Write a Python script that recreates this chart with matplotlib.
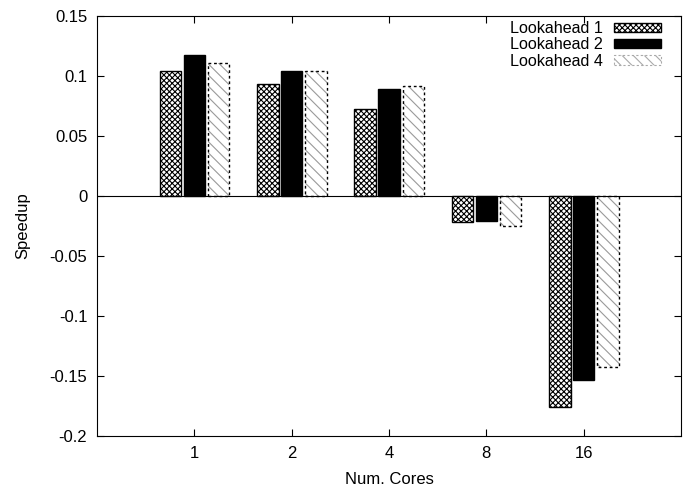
import matplotlib
matplotlib.use('Agg')
import matplotlib.pyplot as plt
from matplotlib.patches import Patch
import numpy as np

plt.rcParams['font.family'] = ['Liberation Sans', 'DejaVu Sans']
plt.rcParams['hatch.linewidth'] = 0.8

# data
cores = ['1', '2', '4', '8', '16']
lookahead1 = [0.104, 0.093, 0.0725, -0.022, -0.176]
lookahead2 = [0.1175, 0.104, 0.089, -0.021, -0.153]
lookahead4 = [0.111, 0.104, 0.0915, -0.025, -0.1425]
labels = ['Lookahead 1', 'Lookahead 2', 'Lookahead 4']

fig = plt.figure(figsize=(6.86, 4.87), dpi=100)
ax = fig.add_axes([97/686, 51/487, 584/686, 420/487])

x = np.arange(len(cores))
w = 0.22
ax.bar(x - 0.245, lookahead1, w, color='white', edgecolor='black', hatch='xxxxxx',
       linewidth=1.0)
ax.bar(x, lookahead2, w, color='black', edgecolor='black', linewidth=1.0)
# light diagonal fill, then a dashed black outline on top
ax.bar(x + 0.25, lookahead4, w, color='white', edgecolor='#9a9a9a', hatch='\\\\\\',
       linewidth=0)
ax.bar(x + 0.25, lookahead4, w, fill=False, edgecolor='black',
       linewidth=1.0, linestyle=(0, (2, 2)))

ax.axhline(0, color='black', linewidth=0.8)

ax.set_xlim(-1, 5)
ax.set_ylim(-0.2, 0.15)
ax.set_xticks(x)
ax.set_xticklabels(cores)
ax.set_yticks(np.arange(-0.2, 0.151, 0.05))
ax.set_yticklabels(['-0.2', '-0.15', '-0.1', '-0.05', '0', '0.05', '0.1', '0.15'])
ax.tick_params(direction='in', top=True, right=True, length=5, labelsize=12, pad=7)
ax.set_xlabel('Num. Cores', fontsize=12, labelpad=8)
ax.set_ylabel('Speedup', fontsize=12, labelpad=14)

# legend proxies
handles = [
    Patch(facecolor='white', edgecolor='black', hatch='xxxxxx', linewidth=1.0),
    Patch(facecolor='black', edgecolor='black', linewidth=1.0),
    Patch(facecolor='white', edgecolor='#aaaaaa', hatch='\\\\\\', linewidth=0.8,
          linestyle=(0, (2, 2))),
]
ax.legend(handles, labels, loc='upper right', bbox_to_anchor=(0.977, 1.003),
          frameon=False, markerfirst=False, fontsize=11.6,
          handlelength=2.9, handleheight=0.5, labelspacing=0.08,
          borderaxespad=0.0, handletextpad=0.7)

plt.savefig('out.png', dpi=100)
